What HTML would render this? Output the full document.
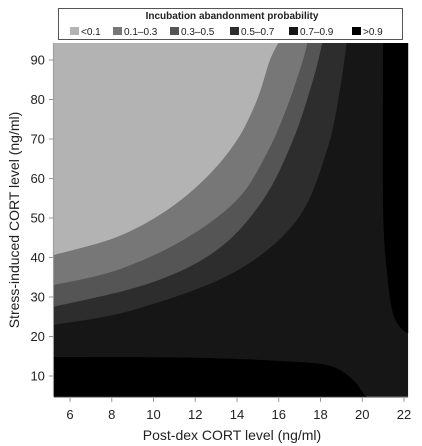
<!DOCTYPE html>
<html><head><meta charset="utf-8"><style>
body{margin:0;background:#fff;}
svg{display:block;font-family:"Liberation Sans",sans-serif;}
</style></head><body>
<svg id="c" width="422" height="446" viewBox="0 0 422 446"></svg>
<script>
const xTicks=[6,8,10,12,14,16,18,20,22];
const yTicks=[10,20,30,40,50,60,70,80,90];
const bandLabels=["<0.1","0.1\u20130.3","0.3\u20130.5","0.5\u20130.7","0.7\u20130.9",">0.9"];
const bandColors=["#b3b3b3","#777777","#555555","#2d2d2d","#161616","#000000"];
const c01X=[5.2,8.25,10.65,12.56,14.0,14.96,15.58,16.06];
const c01Y=[40.6,45.2,52.0,60.4,69.7,79.9,90.0,95.1];
const c03X=[5.2,8.25,11.41,14.0,15.44,16.4,17.16,17.4];
const c03Y=[33.0,36.8,44.4,54.6,66.5,78.1,90.0,95.1];
const c05X=[5.2,9.83,13.04,15.25,16.68,17.64,18.12];
const c05Y=[27.5,33.5,41.9,54.6,69.7,84.9,95.1];
const c07X=[5.2,9.02,13.81,16.87,18.31,18.93,19.27];
const c07Y=[22.9,26.7,36.1,49.5,67.2,82.4,95.1];
const rightX=[21.0,21.0,21.19,21.47,21.95,22.4];
const rightY=[95.1,52.8,36.1,25.9,21.6,20.7];
const bottomX=[5.2,12.23,17.0,18.6,19.56,20.04,20.3];
const bottomY=[14.8,14.6,13.5,12.3,9.0,5.7,4.0];
const xMin=5.23,xMax=22.2,yMin=4.7,yMax=94.3;
const sx=x=>70+(x-6)*20.875;
const sy=y=>376-(y-10)*3.95;
const NS="http://www.w3.org/2000/svg";
const svg=document.getElementById('c');
function mk(t,a,p){const e=document.createElementNS(NS,t);for(const k in a)e.setAttribute(k,a[k]);(p||svg).appendChild(e);return e;}
function smooth(xs,ys){const p=xs.map((x,i)=>[sx(x),sy(ys[i])]);let d="M"+p[0][0]+","+p[0][1];
for(let i=0;i<p.length-1;i++){const p0=p[i-1]||p[i],p1=p[i],p2=p[i+1],p3=p[i+2]||p2;
d+=" C"+(p1[0]+(p2[0]-p0[0])/6)+","+(p1[1]+(p2[1]-p0[1])/6)+" "+(p2[0]-(p3[0]-p1[0])/6)+","+(p2[1]-(p3[1]-p1[1])/6)+" "+p2[0]+","+p2[1];}return d;}
const L=sx(xMin),R=sx(xMax),T=sy(yMax),B=sy(yMin);
const defs=mk('defs',{});const cp=mk('clipPath',{id:'pc'},defs);mk('rect',{x:L,y:T,width:R-L,height:B-T},cp);
const g=mk('g',{'clip-path':'url(#pc)'});

const bg=mk('rect',{x:L,y:T,width:R-L,height:B-T,fill:bandColors[4]},g);

const tl=" L"+(L-20)+","+(T-20)+" L"+(L-20)+","+sy(c01Y[0])+" Z";
[[c07X,c07Y,3,'band-0.5-0.7'],[c05X,c05Y,2,'band-0.3-0.5'],[c03X,c03Y,1,'band-0.1-0.3'],[c01X,c01Y,0,'band-lt-0.1']].forEach(([xs,ys,ci,n])=>{
const p=mk('path',{d:smooth(xs,ys)+" L"+sx(xs[xs.length-1])+","+(T-20)+" L"+(L-20)+","+(T-20)+" L"+(L-20)+","+sy(ys[0])+" Z",fill:bandColors[ci]},g);
});
const pr=mk('path',{d:smooth(rightX,rightY)+" L"+(R+20)+","+sy(rightY[rightY.length-1])+" L"+(R+20)+","+(T-20)+" Z",fill:bandColors[5]},g);

const pb=mk('path',{d:smooth(bottomX,bottomY)+" L"+sx(bottomX[bottomX.length-1])+","+(B+20)+" L"+(L-20)+","+(B+20)+" L"+(L-20)+","+sy(bottomY[0])+" Z",fill:bandColors[5]},g);

// axes
const ax=mk('g',{stroke:'#999','stroke-width':1});

mk('line',{x1:L,y1:B+0.5,x2:R,y2:B+0.5},ax);mk('line',{x1:L-0.5,y1:T,x2:L-0.5,y2:B},ax);
xTicks.forEach(v=>{mk('line',{x1:sx(v),y1:B,x2:sx(v),y2:B+5},ax);
const t=mk('text',{x:sx(v),y:B+22,'text-anchor':'middle','font-size':13,fill:'#222'});t.textContent=v;
});
yTicks.forEach(v=>{mk('line',{x1:L-5,y1:sy(v),x2:L,y2:sy(v)},ax);
const t=mk('text',{x:L-9,y:sy(v)+4.5,'text-anchor':'end','font-size':13,fill:'#222'});t.textContent=v;
});
const xt=mk('text',{x:232,y:440,'text-anchor':'middle','font-size':14,fill:'#222'});xt.textContent="Post-dex CORT level (ng/ml)";

const yt=mk('text',{x:0,y:0,transform:'translate(19,220) rotate(-90)','text-anchor':'middle','font-size':14,fill:'#222'});yt.textContent="Stress-induced CORT level (ng/ml)";

// legend
const lg=mk('g',{});
mk('rect',{x:58.5,y:8.5,width:344,height:31,fill:'#fff',stroke:'#555'},lg);
const lt=mk('text',{x:232,y:19,'text-anchor':'middle','font-size':10,'font-weight':'bold',fill:'#222'},lg);lt.textContent="Incubation abandonment  probability";

const lx=[70,113,170,230,289,352];
bandLabels.forEach((s,i)=>{const e=mk('g',{},lg);
mk('rect',{x:lx[i],y:27,width:9,height:8,fill:bandColors[i]},e);
const t=mk('text',{x:lx[i]+11,y:35,'font-size':10,fill:'#222'},e);t.textContent=s;});
</script>
</body></html>
